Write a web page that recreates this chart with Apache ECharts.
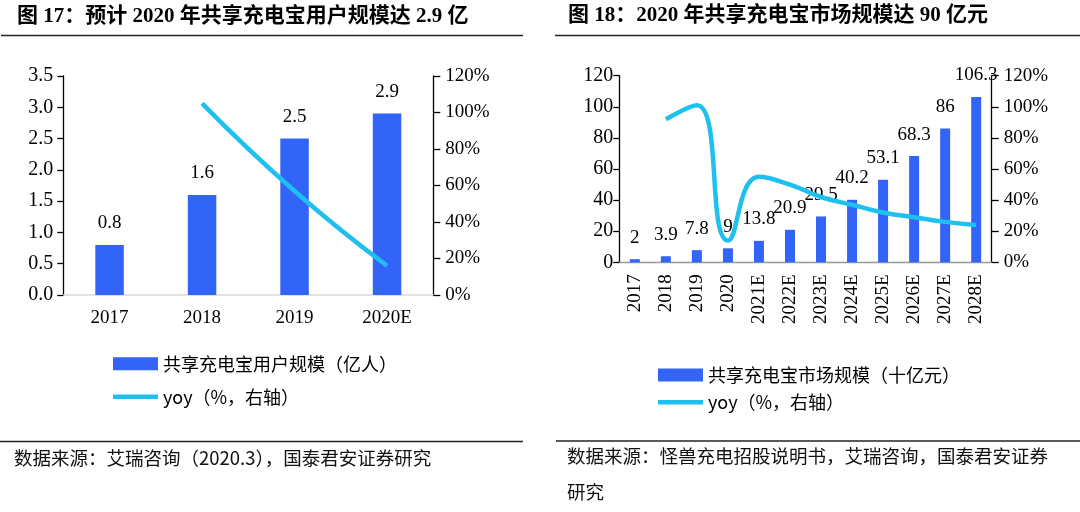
<!DOCTYPE html>
<html>
<head>
<meta charset="utf-8">
<script src="https://cdn.jsdelivr.net/npm/echarts@6/dist/echarts.min.js"></script>
<style>
html,body{margin:0;padding:0;background:#fff;}
#c{width:1080px;height:512px;}
</style>
</head>
<body>
<div id="c"></div>
<script>
// ---- Chart 17 data ----
const catsA = ['2017', '2018', '2019', '2020E'];
const usersA = [0.8, 1.6, 2.5, 2.9];
const yoyA = ['-', 105, 57, 16];
const nameBarA = '共享充电宝用户规模（亿人）';
const nameLineA = 'yoy（%，右轴）';
const titleA = '图 17：预计 2020 年共享充电宝用户规模达 2.9 亿';
const sourceA = '数据来源：艾瑞咨询（2020.3），国泰君安证券研究';

// ---- Chart 18 data ----
const catsB = ['2017', '2018', '2019', '2020', '2021E', '2022E', '2023E', '2024E', '2025E', '2026E', '2027E', '2028E'];
const marketB = [2, 3.9, 7.8, 9, 13.8, 20.9, 29.5, 40.2, 53.1, 68.3, 86, 106.3];
const yoyB = ['-', 92, 101, 14, 55, 50, 42, 37, 32, 29, 26, 24];
const nameBarB = '共享充电宝市场规模（十亿元）';
const nameLineB = 'yoy（%，右轴）';
const titleB = '图 18：2020 年共享充电宝市场规模达 90 亿元';
const sourceB1 = '数据来源：怪兽充电招股说明书，艾瑞咨询，国泰君安证券';
const sourceB2 = '研究';

const BLUE = '#3264F8';
const CYAN = '#1EC0F0';
const FONT = "'Liberation Serif', 'Noto Sans CJK SC', serif";
const CJK = "'Noto Sans CJK SC', 'Liberation Serif', sans-serif";
const LINE_ICON = 'path://M0,0 L46,0 L46,4.5 L0,4.5 Z';

const chart = echarts.init(document.getElementById('c'), null, {renderer: 'canvas'});

function yLeft(gi, max, interval, fmt, margin) {
  return {
    type: 'value', gridIndex: gi, position: 'left', min: 0, max: max, interval: interval,
    axisLine: {show: true, lineStyle: {color: '#000', width: 1.3}},
    axisTick: {show: true, inside: false, length: 6, lineStyle: {color: '#000', width: 1.3}},
    axisLabel: {color: '#000', fontFamily: FONT, fontSize: 20, margin: margin, formatter: fmt},
    splitLine: {show: false}
  };
}
function yRight(gi) {
  return {
    type: 'value', gridIndex: gi, position: 'right', min: 0, max: 120, interval: 20,
    axisLine: {show: true, lineStyle: {color: '#000', width: 1.3}},
    axisTick: {show: true, inside: false, length: 7, lineStyle: {color: '#000', width: 1.3}},
    axisLabel: {color: '#000', fontFamily: FONT, fontSize: 19, margin: 12, formatter: '{value}%'},
    splitLine: {show: false}
  };
}

const option = {
  animation: false,
  backgroundColor: '#fff',
  grid: [
    {left: 63.3, right: 1080 - 433.3, top: 76, bottom: 512 - 295},
    {left: 619.3, right: 1080 - 991.7, top: 75.7, bottom: 512 - 262.3}
  ],
  xAxis: [
    {
      type: 'category', gridIndex: 0, data: catsA,
      axisLine: {show: true, lineStyle: {color: '#d9d9d9', width: 1.5}},
      axisTick: {show: false},
      axisLabel: {color: '#000', fontFamily: FONT, fontSize: 19, margin: 14}
    },
    {
      type: 'category', gridIndex: 1, data: catsB,
      axisLine: {show: true, lineStyle: {color: '#999', width: 1.3}},
      axisTick: {show: false},
      axisLabel: {color: '#000', fontFamily: FONT, fontSize: 19, margin: 12, rotate: 90, interval: 0}
    }
  ],
  yAxis: [
    yLeft(0, 3.5, 0.5, v => v.toFixed(1), 10),
    yRight(0),
    yLeft(1, 120, 20, '{value}', 6),
    yRight(1)
  ],
  legend: [
    {
      orient: 'vertical', left: 108, top: 348.7, itemWidth: 45, itemHeight: 13, itemGap: 13,
      textStyle: {color: '#000', fontFamily: CJK, fontSize: 18, lineHeight: 20},
      data: [{name: nameBarA, icon: 'rect'}, {name: nameLineA, icon: LINE_ICON}]
    },
    {
      orient: 'vertical', left: 653, top: 360, itemWidth: 45, itemHeight: 13, itemGap: 7.3,
      textStyle: {color: '#000', fontFamily: CJK, fontSize: 18, lineHeight: 20},
      data: [{name: nameBarB + ' ', icon: 'rect'}, {name: nameLineB + ' ', icon: LINE_ICON}]
    }
  ],
  series: [
    {
      name: nameBarA, type: 'bar', xAxisIndex: 0, yAxisIndex: 0, data: usersA,
      barWidth: 28.5, itemStyle: {color: BLUE},
      label: {show: true, position: 'top', distance: 12, color: '#000', fontFamily: FONT, fontSize: 19,
        formatter: p => String(p.value)}
    },
    {
      name: nameLineA, type: 'line', xAxisIndex: 0, yAxisIndex: 1, data: yoyA,
      smooth: true, symbol: 'none', lineStyle: {color: CYAN, width: 4.5}, itemStyle: {color: CYAN}
    },
    {
      name: nameBarB + ' ', type: 'bar', xAxisIndex: 1, yAxisIndex: 2, data: marketB,
      barWidth: 10, itemStyle: {color: BLUE},
      label: {show: true, position: 'top', distance: 12, color: '#000', fontFamily: FONT, fontSize: 19,
        formatter: p => String(p.value)}
    },
    {
      name: nameLineB + ' ', type: 'line', xAxisIndex: 1, yAxisIndex: 3, data: yoyB,
      smooth: true, symbol: 'none', lineStyle: {color: CYAN, width: 4.5}, itemStyle: {color: CYAN}, z: 3
    }
  ],
  graphic: [
    {type: 'text', left: 17, top: 6, style: {text: titleA, fontFamily: FONT, fontWeight: 'bold', fontSize: 21, fill: '#000'}},
    {type: 'text', left: 568, top: 5, style: {text: titleB, fontFamily: FONT, fontWeight: 'bold', fontSize: 21, fill: '#000'}},
    {type: 'line', shape: {x1: 1, y1: 35.5, x2: 523, y2: 35.5}, style: {stroke: '#222', lineWidth: 1.3}},
    {type: 'line', shape: {x1: 555, y1: 35.5, x2: 1080, y2: 35.5}, style: {stroke: '#222', lineWidth: 1.3}},
    {type: 'line', shape: {x1: 0, y1: 441.5, x2: 523, y2: 441.5}, style: {stroke: '#222', lineWidth: 1.3}},
    {type: 'line', shape: {x1: 556, y1: 441, x2: 1080, y2: 441}, style: {stroke: '#222', lineWidth: 1.3}},
    {type: 'text', left: 14, top: 449, style: {text: sourceA, fontFamily: CJK, fontSize: 18.5, fill: '#111'}},
    {type: 'text', left: 567, top: 447, style: {text: sourceB1, fontFamily: CJK, fontSize: 18.5, fill: '#111'}},
    {type: 'text', left: 567, top: 483, style: {text: sourceB2, fontFamily: CJK, fontSize: 18.5, fill: '#111'}}
  ]
};
chart.setOption(option);
</script>
</body>
</html>
